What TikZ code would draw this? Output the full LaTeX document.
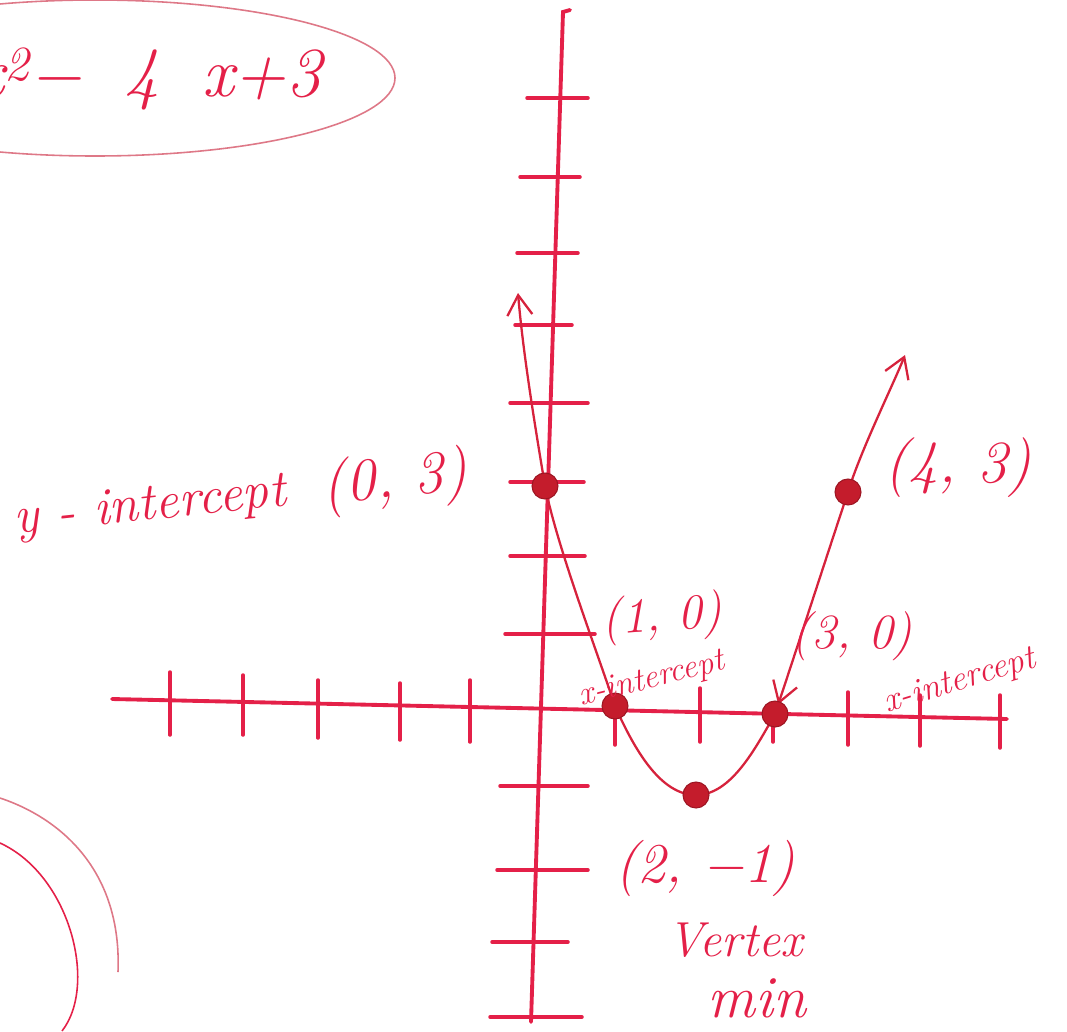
\documentclass[tikz,border=0pt]{standalone}
\usepackage{fontspec}
\usetikzlibrary{arrows.meta}
\definecolor{pen}{RGB}{228,32,72}
\definecolor{ink}{RGB}{214,34,60}
\definecolor{faint}{RGB}{222,120,135}
\definecolor{blot}{RGB}{196,28,44}
\newcommand\hw[1]{\fontsize{#1}{#1}\selectfont\itshape}

\begin{document}
\begin{tikzpicture}[
  x=0.02cm, y=-0.02cm,
  >={Straight Barb[length=4mm,width=5mm]},
  axis/.style={pen,line width=2.2pt,line cap=round},
  tick/.style={pen,line width=2pt,line cap=round},
  curve/.style={ink,line width=1.3pt,line cap=round},
  dot/.style={circle,fill=blot,draw=blot!80!black,line width=0.6pt,minimum size=5.2mm,inner sep=0pt},
  lab/.style={pen,inner sep=0pt},
  faintline/.style={faint,line width=0.9pt},
]
\clip (0,0) rectangle (1067,1031);
% ---- axes ----
\coordinate (ytop) at (563,12);
\coordinate (ybot) at (531,1022);
\coordinate (xl) at (112,699);
\coordinate (xr) at (1007,719);
\draw[axis] (ybot) -- (ytop) -- ++(7,-2);
\draw[axis] (xl) -- (xr);
\foreach \y/\l/\r in {98/527/588,177/520/580,253/517/578,325/515/572,403/510/588,482/510/584,
  556/510/585,634/505/595,786/500/588,870/497/588,942/492/568,1017/490/582}
  \draw[tick] (\l,\y) -- (\r,\y);
\foreach \x/\t/\b in {170/672/735,243/675/735,318/680/738,400/683/740,470/680/742,
  615/700/745,700/688/742,773/708/742,848/692/745,920/695/746,1000/695/748}
  \draw[tick] (\x,\t) -- (\x,\b);
% ---- points of the parabola ----
\coordinate (c03) at (545,486);
\coordinate (c10) at (615,706);
\coordinate (c21) at (696,795);
\coordinate (c30) at (775,714);
\coordinate (c43) at (848,492);
\coordinate (ltip) at (518,293);
\coordinate (rtip) at (905,355);
\draw[curve,<-] (ltip) .. controls +(5,60) and +(-10,-60) .. (c03)
  .. controls +(12,60) and +(-20,-60) .. (c10)
  .. controls +(20,45) and +(-35,0) .. (c21)
  .. controls +(35,0) and +(-20,35) .. (c30);
\draw[curve,->,shorten >=2mm] (c43) .. controls +(-15,45) and +(20,-60) .. (c30);
\draw[curve,->] (c43) .. controls +(12,-40) and +(-12,30) .. (rtip);
\node[dot] (p03) at (c03) {};
\node[dot] (p10) at (c10) {};
\node[dot] (p21) at (c21) {};
\node[dot] (p30) at (c30) {};
\node[dot] (p43) at (c43) {};
% ---- labels ----
\node[lab,font=\hw{30},rotate=6] (ylab) at (150,508) {y - intercept};
\node[lab,font=\hw{34},rotate=6] (ypt) at (395,482) {(0, 3)};
\node[lab,font=\hw{34}] (fpt) at (958,468) {(4, 3)};
\node[lab,font=\hw{28},rotate=4] (apt) at (662,618) {(1, 0)};
\node[lab,font=\hw{19},rotate=14] (alab) at (652,680) {x-intercept};
\node[lab,font=\hw{28}] (bpt) at (852,636) {(3, 0)};
\node[lab,font=\hw{20},rotate=17] (blab) at (960,682) {x-intercept};
\node[lab,font=\hw{32}] (vpt) at (705,868) {(2, −1)};
\node[lab,font=\hw{28}] (vlab) at (735,940) {Vertex};
\node[lab,font=\hw{34}] (mlab) at (757,998) {min};
% ---- circled equation, top left ----
\node[lab,font=\hw{40},anchor=base east] (eqn) at (322,96) {x\textsuperscript{2}−\hspace{.6em}4\hspace{.6em}x+3};
\draw[faintline] (95,78) ellipse [x radius=300, y radius=78];
% ---- arcs, bottom left ----
\draw[faintline] (0,798) .. controls (60,818) and (122,870) .. (118,972);
\draw[faintline,pen] (0,843) .. controls (70,875) and (98,985) .. (62,1031);
\end{tikzpicture}
\end{document}
